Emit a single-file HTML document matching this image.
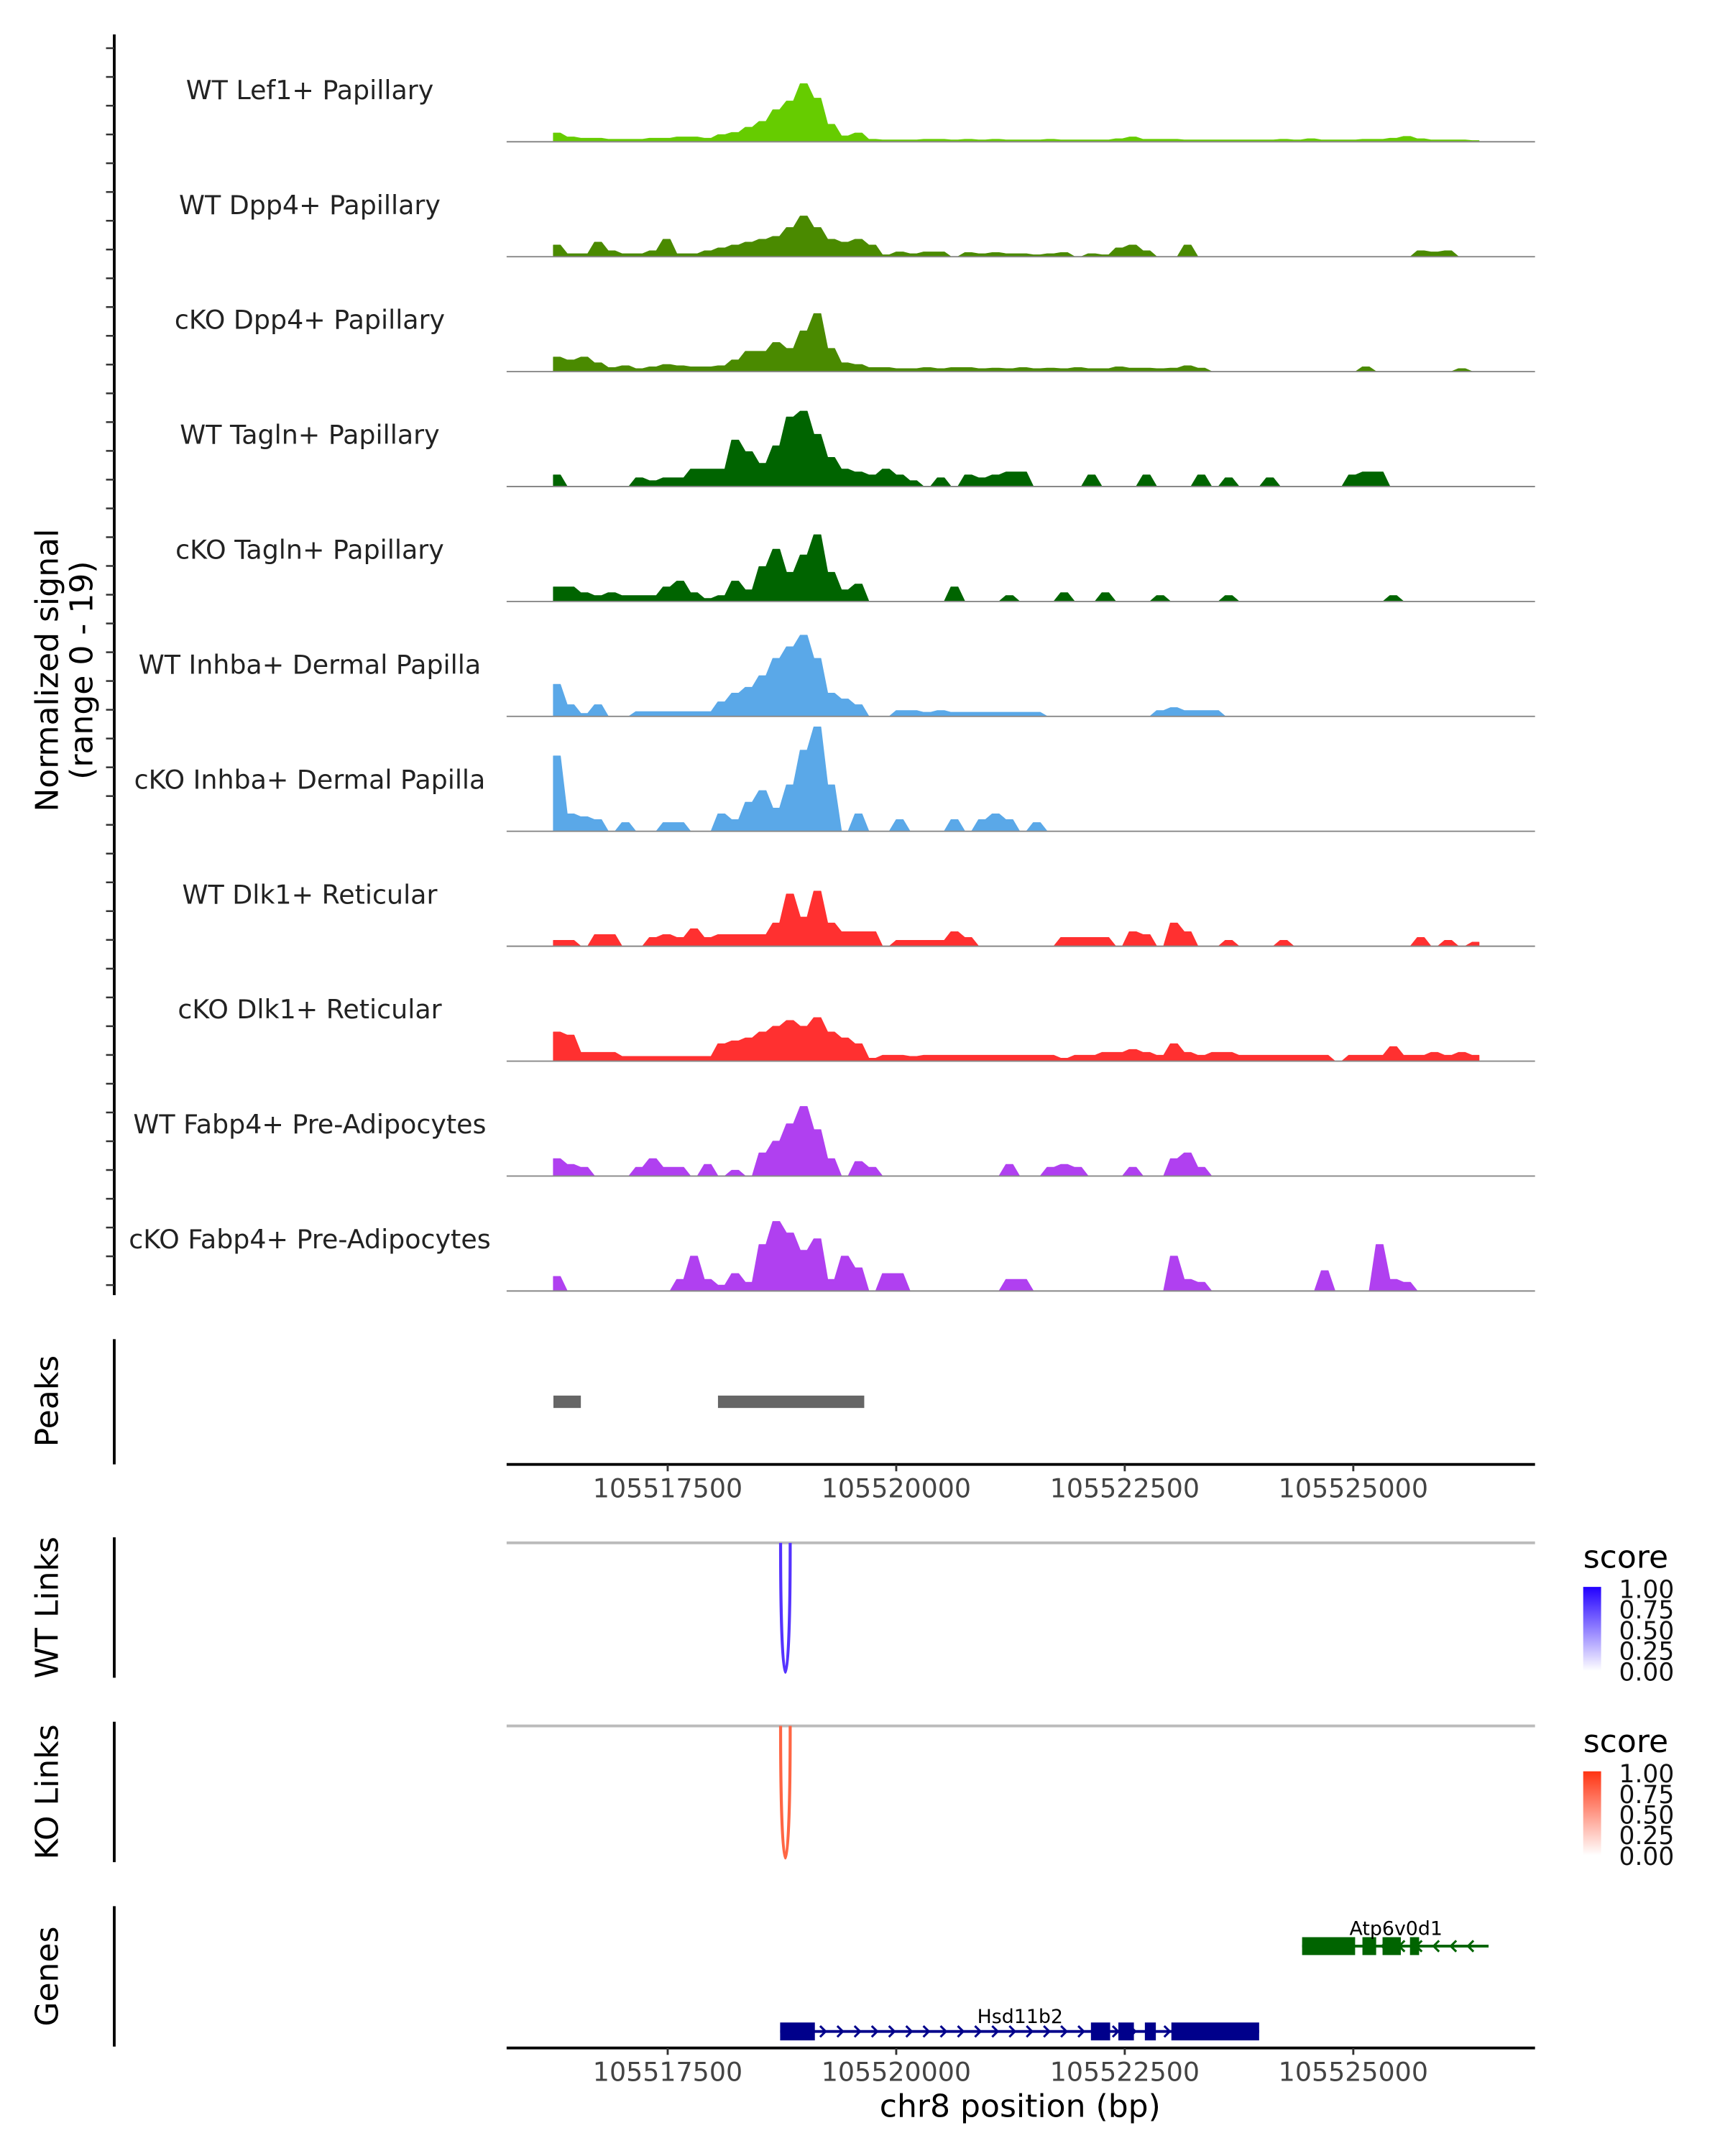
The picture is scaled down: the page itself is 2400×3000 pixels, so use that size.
<!DOCTYPE html>
<html><head><meta charset="utf-8">
<style>
html,body{margin:0;padding:0;background:#fff;}
svg{display:block;font-family:"DejaVu Sans","Liberation Sans",sans-serif;}
</style></head>
<body>
<svg id="chart" width="2400" height="3000" viewBox="0 0 1253 1566.5" preserveAspectRatio="none" xmlns="http://www.w3.org/2000/svg">
<rect width="1253" height="1567" fill="#fff"/>
<g id="tracks"></g>
<line x1="83" y1="25" x2="83" y2="941" stroke="#000" stroke-width="2"/>
<g id="yticks"></g>
<text transform="translate(42,487) rotate(-90)" text-anchor="middle" font-size="23">Normalized signal</text>
<text transform="translate(67,487) rotate(-90)" text-anchor="middle" font-size="23">(range 0 - 19)</text>

<line x1="83" y1="973" x2="83" y2="1064" stroke="#000" stroke-width="2"/>
<text transform="translate(42,1018) rotate(-90)" text-anchor="middle" font-size="23">Peaks</text>
<g id="peaks"></g>
<g id="xaxis1"></g>

<line x1="83" y1="1117" x2="83" y2="1219" stroke="#000" stroke-width="2"/>
<text transform="translate(42,1168) rotate(-90)" text-anchor="middle" font-size="23">WT Links</text>
<line x1="368" y1="1121" x2="1115" y2="1121" stroke="#bbb" stroke-width="2"/>
<g id="wtlinks"></g>

<line x1="83" y1="1251" x2="83" y2="1353" stroke="#000" stroke-width="2"/>
<text transform="translate(42,1302) rotate(-90)" text-anchor="middle" font-size="23">KO Links</text>
<line x1="368" y1="1254" x2="1115" y2="1254" stroke="#bbb" stroke-width="2"/>
<g id="kolinks"></g>

<defs>
<linearGradient id="gb" x1="0" y1="1" x2="0" y2="0"><stop offset="0" stop-color="#fff"/><stop offset="1" stop-color="#2200ff"/></linearGradient>
<linearGradient id="gr" x1="0" y1="1" x2="0" y2="0"><stop offset="0" stop-color="#fff"/><stop offset="1" stop-color="#ff3311"/></linearGradient>
</defs>
<g>
<text x="1150" y="1139" font-size="23">score</text>
<rect x="1150" y="1153" width="13" height="61" fill="url(#gb)"/>
<g font-size="18" fill="#111"><text x="1176" y="1161">1.00</text><text x="1176" y="1176">0.75</text><text x="1176" y="1191">0.50</text><text x="1176" y="1206">0.25</text><text x="1176" y="1221">0.00</text></g>
</g>
<g>
<text x="1150" y="1273" font-size="23">score</text>
<rect x="1150" y="1287" width="13" height="61" fill="url(#gr)"/>
<g font-size="18" fill="#111"><text x="1176" y="1295">1.00</text><text x="1176" y="1310">0.75</text><text x="1176" y="1325">0.50</text><text x="1176" y="1340">0.25</text><text x="1176" y="1355">0.00</text></g>
</g>

<line x1="83" y1="1385" x2="83" y2="1487" stroke="#000" stroke-width="2"/>
<text transform="translate(42,1436) rotate(-90)" text-anchor="middle" font-size="23">Genes</text>
<g id="genes"></g>
<g id="xaxis2"></g>
<text x="741" y="1538" text-anchor="middle" font-size="23">chr8 position (bp)</text>
</svg>
<script>
const NS="http://www.w3.org/2000/svg";
const trackLabels=["WT Lef1+ Papillary","WT Dpp4+ Papillary","cKO Dpp4+ Papillary","WT Tagln+ Papillary","cKO Tagln+ Papillary","WT Inhba+ Dermal Papilla","cKO Inhba+ Dermal Papilla","WT Dlk1+ Reticular","cKO Dlk1+ Reticular","WT Fabp4+ Pre-Adipocytes","cKO Fabp4+ Pre-Adipocytes"];
const trackColors=["#66cc00","#4a8a00","#4a8a00","#006400","#006400","#5aa8e8","#5aa8e8","#ff3030","#ff3030","#b040f0","#b040f0"];
const binStart=105516250, binSize=150;
const lef1WT=[1.5,0.8,0.6,0.6,0.4,0.4,0.4,0.6,0.6,0.8,0.8,0.6,1.2,1.6,2.5,3.5,5.5,7,10,7.5,3,1,1.5,0.4,0.3,0.3,0.3,0.4,0.4,0.3,0.4,0.3,0.4,0.3,0.3,0.3,0.4,0.3,0.3,0.3,0.3,0.5,0.8,0.4,0.4,0.4,0.3,0.3,0.3,0.3,0.3,0.3,0.3,0.4,0.3,0.5,0.3,0.3,0.3,0.4,0.4,0.6,0.9,0.5,0.3,0.3,0.3,0.2];
const dpp4WT=[2,0.5,0.5,2.5,1,0.5,0.5,1,3,0.5,0.5,1,1.5,2,2.5,3,3.5,5,7,5,3,2.5,3,2,0.3,0.8,0.5,0.8,0.8,0,0.7,0.5,0.7,0.5,0.5,0.3,0.5,0.7,0,0.5,0.3,1.5,2,1,0,0,2,0,0,0,0,0,0,0,0,0,0,0,0,0,0,0,0,1,0.8,1,0,0];
const dpp4KO=[2.5,2,2.5,1.5,0.7,1,0.5,0.8,1.2,1,0.8,0.8,1,2,3.5,3.5,5,4,7,10,4,1.5,1.2,0.7,0.7,0.5,0.5,0.7,0.5,0.7,0.7,0.5,0.6,0.5,0.7,0.5,0.6,0.5,0.7,0.5,0.5,0.8,0.6,0.6,0.5,0.6,1,0.6,0,0,0,0,0,0,0,0,0,0,0,0.8,0,0,0,0,0,0,0.5,0];
const taglnWT=[2,0,0,0,0,0,1.5,1,1.5,1.5,3,3,3,8,6,4,7,12,13,9,5,3,2.5,2,3,2,1,0,1.5,0,2,1.5,2,2.5,2.5,0,0,0,0,2,0,0,0,2,0,0,0,2,0,1.5,0,0,1.5,0,0,0,0,0,2,2.5,2.5,0,0,0,0,0,0,0];
const taglnKO=[2.5,2.5,1.5,1,1.5,1,1,1,2.5,3.5,1.5,0.5,1,3.5,2,6,9,5,8,11.5,5,2,3,0,0,0,0,0,0,2.5,0,0,0,1,0,0,0,1.5,0,0,1.5,0,0,0,1,0,0,0,0,1,0,0,0,0,0,0,0,0,0,0,0,1,0,0,0,0,0,0];
const inhbaWT=[5.5,2,0.5,2,0,0,0.8,0.8,0.8,0.8,0.8,0.8,2.5,4,5,7,10,12,14,10,4,3,2,0,0,1,1,0.7,1,0.7,0.7,0.7,0.7,0.7,0.7,0.7,0,0,0,0,0,0,0,0,1,1.5,1,1,1,0,0,0,0,0,0,0,0,0,0,0,0,0,0,0,0,0,0,0];
const inhbaKO=[13,3,2.5,2,0,1.5,0,0,1.5,1.5,0,0,3,2,5,7,4,8,14,18,8,0,3,0,0,2,0,0,0,2,0,2,3,2,0,1.5,0,0,0,0,0,0,0,0,0,0,0,0,0,0,0,0,0,0,0,0,0,0,0,0,0,0,0,0,0,0,0,0];
const dlk1WT=[1,1,0,2,2,0,0,1.5,2,1.5,3,1.5,2,2,2,2,4,9,5,9.5,4,2.5,2.5,2.5,0,1,1,1,1,2.5,1.5,0,0,0,0,0,0,1.5,1.5,1.5,1.5,0,2.5,2,0,4,2.5,0,0,1,0,0,0,1,0,0,0,0,0,0,0,0,0,1.5,0,1,0,0.7];
const dlk1KO=[5,4.5,1.5,1.5,1.5,0.8,0.8,0.8,0.8,0.8,0.8,0.8,3,3.5,4,5,6,7,6,7.5,5,4,3,0.5,1,1,0.8,1,1,1,1,1,1,1,1,1,1,0.5,1,1,1.5,1.5,2,1.5,1,3,1.5,1,1.5,1.5,1,1,1,1,1,1,1,0,1,1,1,2.5,1,1,1.5,1,1.5,1];
const fabp4WT=[3,2,1.5,0,0,0,1.5,3,1.5,1.5,0,2,0,1,0,4,6,9,12,8,3,0,2.5,1.5,0,0,0,0,0,0,0,0,0,2,0,0,1.5,2,1.5,0,0,0,1.5,0,0,3,4,1.5,0,0,0,0,0,0,0,0,0,0,0,0,0,0,0,0,0,0,0,0];
const fabp4KO=[2.5,0,0,0,0,0,0,0,0,2,6,2,1,3,1.5,8,12,10,7,9,2,6,4,0,3,3,0,0,0,0,0,0,0,2,2,0,0,0,0,0,0,0,0,0,0,6,2,1.5,0,0,0,0,0,0,0,0,3.5,0,0,0,8,2,1.5,0,0,0,0,0];
const seriesList=[lef1WT,dpp4WT,dpp4KO,taglnWT,taglnKO,inhbaWT,inhbaKO,dlk1WT,dlk1KO,fabp4WT,fabp4KO];
const yMax=19;
const xTicks=[105517500,105520000,105522500,105525000];
const peakStarts=[105516250,105518050];
const peakEnds=[105516550,105519650];
const wtLinkStart=[105518735], wtLinkEnd=[105518840], wtLinkScore=[1.0];
const koLinkStart=[105518735], koLinkEnd=[105518840], koLinkScore=[1.0];
const genes=["Atp6v0d1","Hsd11b2"];
const geneStarts=[105524440,105518730];
const geneEnds=[105526480,105523970];
const geneStrand=["-","+"];
const geneExonStarts=[[105524440,105525100,105525320,105525620],[105518730,105522130,105522430,105522720,105523010]];
const geneExonEnds=[[105525020,105525250,105525520,105525720],[105519110,105522340,105522600,105522840,105523970]];

const X=bp=>485+(bp-105517500)*0.0664;
const trackStep=83.5, trackH=80;
const tracks=document.getElementById('tracks');
function mk(tag,attrs,parent){const e=document.createElementNS(NS,tag);for(const k in attrs)e.setAttribute(k,attrs[k]);parent.appendChild(e);return e;}
seriesList.forEach((vals,t)=>{
  const base=103+t*trackStep;
  const Y=v=>base-v/yMax*trackH;
  const g=mk('g',{},tracks);
  
  
  let d='M'+X(binStart)+','+base;
  vals.forEach((v,i)=>{const x0=X(binStart+i*binSize), x1=X(binStart+(i+1)*binSize);
    d+=' L'+x0.toFixed(1)+','+Y(v).toFixed(1)+' L'+(x0+(x1-x0)*0.5).toFixed(1)+','+Y(v).toFixed(1);});
  d+=' L'+X(binStart+vals.length*binSize-binSize*0.5).toFixed(1)+','+base+' Z';
  const p=mk('path',{d:d,fill:trackColors[t],stroke:trackColors[t],'stroke-width':0.6,'stroke-linejoin':'round'},g);
  
  
  const bl=mk('line',{x1:368,x2:1115,y1:base,y2:base,stroke:'#888','stroke-width':1},g);
  
  
  const lb=mk('text',{x:225,y:base-31,'text-anchor':'middle','font-size':19,fill:'#222'},g);
  lb.textContent=trackLabels[t];
  
  
});
const yt=document.getElementById('yticks');
for(let y=35;y<=940;y+=20.9){const l=mk('line',{x1:77,x2:83,y1:y.toFixed(1),y2:y.toFixed(1),stroke:'#333','stroke-width':1.3},yt);
  
  }
const pk=document.getElementById('peaks');
peakStarts.forEach((s,i)=>{const r=mk('rect',{x:X(s),y:1014,width:X(peakEnds[i])-X(s),height:9,fill:'#666'},pk);
  
  });
function xaxis(id,y){const g=document.getElementById(id);
  mk('line',{x1:368,x2:1115,y1:y,y2:y,stroke:'#000','stroke-width':2},g);
  xTicks.forEach(v=>{const tl=mk('line',{x1:X(v),x2:X(v),y1:y,y2:y+5,stroke:'#333','stroke-width':1.5},g);
    
    
    const tx=mk('text',{x:X(v),y:y+24,'text-anchor':'middle','font-size':19,fill:'#444'},g);
    tx.textContent=v;
    
    });}
xaxis('xaxis1',1064);xaxis('xaxis2',1488);
function links(id,s,e,sc,top,depth,col){const g=document.getElementById(id);
  s.forEach((a,i)=>{const x0=X(a),x1=X(e[i]),c=top+depth*sc[i]/0.75;
    const p=mk('path',{d:`M${x0},${top} C${x0},${c} ${x1},${c} ${x1},${top}`,fill:'none',stroke:col,'stroke-width':2.2},g);
    
    });}
links('wtlinks',wtLinkStart,wtLinkEnd,wtLinkScore,1121,94,'#5533ff');
links('kolinks',koLinkStart,koLinkEnd,koLinkScore,1254,96,'#ff6644');
const gg=document.getElementById('genes');
const geneY=[1414,1476], geneCol=['#006400','#00008b'], geneLblY=[1406,1470], geneLblX=[1014,741];
genes.forEach((nm,i)=>{const g=mk('g',{},gg);
  
  
  const y=geneY[i],c=geneCol[i];
  mk('line',{x1:X(geneStarts[i]),x2:X(geneEnds[i]),y1:y,y2:y,stroke:c,'stroke-width':2},g);
  for(let x=X(geneStarts[i])+8;x<X(geneEnds[i])-4;x+=12.5){
    const dx=geneStrand[i]=='+'?4:-4;
    mk('path',{d:`M${x-dx},${y-4} L${x},${y} L${x-dx},${y+4}`,fill:'none',stroke:c,'stroke-width':1.6},g);}
  geneExonStarts[i].forEach((s,j)=>{const r=mk('rect',{x:X(s),y:y-6.5,width:X(geneExonEnds[i][j])-X(s),height:13,fill:c},g);
    
    });
  const t=mk('text',{x:geneLblX[i],y:geneLblY[i],'text-anchor':'middle','font-size':14,fill:'#000'},g);
  t.textContent=nm;
  
  
});
</script>
</body></html>
